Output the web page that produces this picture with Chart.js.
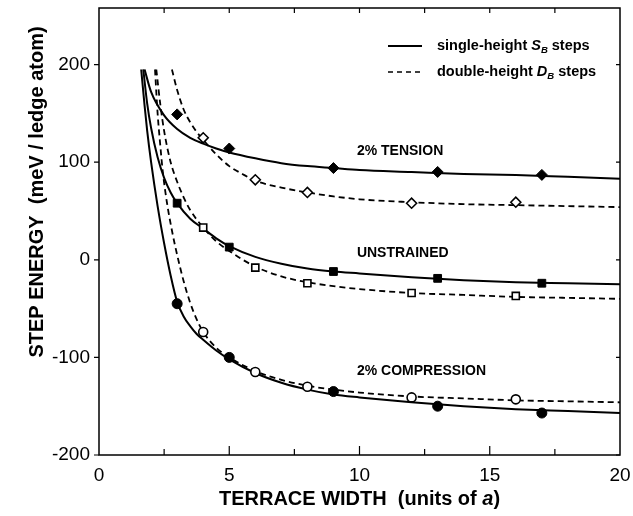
<!DOCTYPE html>
<html>
<head>
<meta charset="utf-8">
<script src="https://cdn.jsdelivr.net/npm/chart.js@4.4.0/dist/chart.umd.min.js"></script>
<style>
body { margin: 0; background: #fff; }
canvas { display: block; }
</style>
</head>
<body>
<canvas id="stepChart" width="633" height="516"></canvas>
<script>
// fitted curves
const tensionSolidX = [1.75, 2, 2.5, 3, 3.5, 4, 4.5, 5, 6, 7, 8, 9, 10, 12, 14, 16, 18, 20];
const tensionSolidY = [195, 172, 148, 134, 125, 119, 114, 110, 104, 99, 96, 94, 92, 90, 88, 87, 85, 83];
const tensionDashX = [2.8, 3, 3.25, 3.5, 3.75, 4, 4.5, 5, 5.5, 6, 7, 8, 9, 10, 12, 14, 16, 18, 20];
const tensionDashY = [195, 174, 154, 141, 131, 123, 108, 96, 88, 81, 74, 69, 65, 62, 59, 57, 56, 55, 54];

const unstrSolidX = [1.7, 1.85, 2, 2.25, 2.5, 2.75, 3, 3.5, 4, 4.5, 5, 6, 7, 8, 9, 10, 12, 14, 16, 18, 20];
const unstrSolidY = [195, 160, 135, 105, 84, 69, 58, 42, 32, 22, 14, 3, -4, -9, -12, -14, -18, -21, -23, -24, -25];
const unstrDashX = [2.2, 2.35, 2.5, 2.75, 3, 3.25, 3.5, 4, 4.5, 5, 6, 7, 8, 9, 10, 12, 14, 16, 18, 20];
const unstrDashY = [195, 160, 132, 100, 80, 64, 51, 33, 19, 9, -7, -17, -23, -27, -30, -34, -36, -38, -39, -40];

const compSolidX = [1.62, 1.75, 1.85, 2, 2.25, 2.5, 2.75, 3, 3.25, 3.5, 3.75, 4, 4.5, 5, 6, 7, 8, 9, 10, 12, 14, 16, 18, 20];
const compSolidY = [195, 158, 132, 100, 55, 17, -16, -43, -58, -68, -76, -82, -93, -102, -116, -126, -133, -138, -141, -146, -150, -153, -155, -157];
const compDashX = [2.15, 2.25, 2.35, 2.45, 2.6, 2.8, 3, 3.25, 3.5, 3.75, 4, 4.5, 5, 6, 7, 8, 9, 10, 12, 14, 16, 18, 20];
const compDashY = [195, 150, 118, 90, 60, 30, 5, -22, -44, -61, -74, -90, -100, -114, -123, -129, -133, -136, -140, -142, -144, -145, -146];

// calculated energies
const sbWidths = [3, 5, 9, 13, 17];
const dbWidths = [4, 6, 8, 12, 16];
const tensionSB = [149, 114, 94, 90, 87];
const tensionDB = [125, 82, 69, 58, 59];
const unstrainedSB = [58, 13, -12, -19, -24];
const unstrainedDB = [33, -8, -24, -34, -37];
const compressionSB = [-45, -100, -135, -150, -157];
const compressionDB = [-74, -115, -130, -141, -143];

const xTicks = [0, 5, 10, 15, 20];
const yTicks = [-200, -100, 0, 100, 200];
const curveNames = ['2% TENSION', 'UNSTRAINED', '2% COMPRESSION'];

const FONT = '"Liberation Sans", Arial, Helvetica, sans-serif';

function pts(xs, ys) {
    return xs.map((x, i) => ({ x: x, y: ys[i] }));
}

function curve(xs, ys, dashed) {
    return {
        data: pts(xs, ys),
        showLine: true,
        pointRadius: 0,
        pointHoverRadius: 0,
        borderColor: '#000',
        borderWidth: dashed ? 1.8 : 2,
        borderDash: dashed ? [6, 4] : [],
        cubicInterpolationMode: 'monotone',
        fill: false
    };
}

function marks(xs, ys, style, filled, r) {
    return {
        data: pts(xs, ys),
        showLine: false,
        pointStyle: style,
        pointRadius: r,
        pointBackgroundColor: filled ? '#000' : '#fff',
        pointBorderColor: '#000',
        pointBorderWidth: filled ? 1 : 1.6
    };
}

// draw text pieces one after another (for italic / subscript parts)
function richText(c, parts, x, y) {
    let cx = x;
    parts.forEach(p => {
        c.font = p.font;
        c.fillText(p.text, cx, y + (p.dy || 0));
        cx += c.measureText(p.text).width;
    });
}
function richWidth(c, parts) {
    let w = 0;
    parts.forEach(p => { c.font = p.font; w += c.measureText(p.text).width; });
    return w;
}

const decor = {
    id: 'decor',
    afterDraw(chart) {
        const c = chart.ctx, a = chart.chartArea;
        const xs = chart.scales.x, ys = chart.scales.y;
        c.save();
        c.strokeStyle = '#000';
        c.fillStyle = '#000';

        // frame
        c.lineWidth = 1.5;
        c.strokeRect(a.left, a.top, a.right - a.left, a.bottom - a.top);

        // ticks
        c.lineWidth = 1.2;
        for (let v = 2.5; v < 20; v += 2.5) {
            const px = xs.getPixelForValue(v);
            const major = v % 5 === 0;
            c.beginPath();
            c.moveTo(px, a.bottom); c.lineTo(px, a.bottom - (major ? 9 : 6));
            c.moveTo(px, a.top); c.lineTo(px, a.top + 5);
            c.stroke();
        }
        yTicks.forEach(v => {
            const py = ys.getPixelForValue(v);
            c.beginPath();
            c.moveTo(a.left, py); c.lineTo(a.left - 5, py);
            c.moveTo(a.right, py); c.lineTo(a.right - 4, py);
            c.stroke();
        });

        // axis titles
        c.textBaseline = 'middle';
        const bold = 'bold 20px ' + FONT;
        const xTitle = [
            { text: 'TERRACE WIDTH  (units of ', font: bold },
            { text: 'a', font: 'italic bold 20px ' + FONT },
            { text: ')', font: bold }
        ];
        const xw = richWidth(c, xTitle);
        richText(c, xTitle, (a.left + a.right) / 2 - xw / 2, 499);

        c.save();
        c.translate(37, 192);
        c.rotate(-Math.PI / 2);
        c.font = bold;
        c.textAlign = 'center';
        c.fillText('STEP ENERGY  (meV / ledge atom)', 0, 0);
        c.restore();

        // legend
        c.lineWidth = 2;
        c.beginPath(); c.moveTo(388, 46); c.lineTo(422, 46); c.stroke();
        c.lineWidth = 1.6;
        c.setLineDash([5, 4]);
        c.beginPath(); c.moveTo(388, 72); c.lineTo(422, 72); c.stroke();
        c.setLineDash([]);
        const lb = 'bold 14.5px ' + FONT, li = 'italic bold 14.5px ' + FONT, ls = 'italic bold 9.5px ' + FONT;
        richText(c, [
            { text: 'single-height ', font: lb },
            { text: 'S', font: li },
            { text: 'B', font: ls, dy: 4 },
            { text: ' steps', font: lb }
        ], 437, 46);
        richText(c, [
            { text: 'double-height ', font: lb },
            { text: 'D', font: li },
            { text: 'B', font: ls, dy: 4 },
            { text: ' steps', font: lb }
        ], 437, 72);

        // curve labels
        c.font = 'bold 14px ' + FONT;
        const lx = xs.getPixelForValue(9.9);
        c.fillText(curveNames[0], lx, ys.getPixelForValue(111));
        c.fillText(curveNames[1], lx, ys.getPixelForValue(7));
        c.fillText(curveNames[2], lx, ys.getPixelForValue(-114));
        c.restore();
    }
};

const chart = new Chart(document.getElementById('stepChart').getContext('2d'), {
    type: 'scatter',
    data: {
        datasets: [
            marks(sbWidths, tensionSB, 'rectRot', true, 5.5),
            marks(dbWidths, tensionDB, 'rectRot', false, 5),
            marks(sbWidths, unstrainedSB, 'rect', true, 5.5),
            marks(dbWidths, unstrainedDB, 'rect', false, 5),
            marks(sbWidths, compressionSB, 'circle', true, 5),
            marks(dbWidths, compressionDB, 'circle', false, 4.5),
            curve(tensionSolidX, tensionSolidY, false),
            curve(tensionDashX, tensionDashY, true),
            curve(unstrSolidX, unstrSolidY, false),
            curve(unstrDashX, unstrDashY, true),
            curve(compSolidX, compSolidY, false),
            curve(compDashX, compDashY, true)
        ]
    },
    options: {
        responsive: false,
        animation: false,
        layout: { padding: { top: 8, right: 13, left: 0, bottom: 0 } },
        plugins: {
            legend: { display: false },
            tooltip: { enabled: false }
        },
        scales: {
            x: {
                type: 'linear',
                min: 0,
                max: 20,
                afterBuildTicks: s => { s.ticks = xTicks.map(v => ({ value: v })); },
                afterFit: s => { s.height = 61; s.paddingLeft = 0; s.paddingRight = 0; },
                grid: { display: false, drawTicks: false },
                border: { display: false },
                ticks: { color: '#000', font: { family: FONT, size: 19 }, padding: 9, maxRotation: 0, autoSkip: false }
            },
            y: {
                type: 'linear',
                min: -200,
                max: 258,
                afterBuildTicks: s => { s.ticks = yTicks.map(v => ({ value: v })); },
                afterFit: s => { s.width = 99; s.paddingTop = 0; s.paddingBottom = 0; },
                grid: { display: false, drawTicks: false },
                border: { display: false },
                ticks: { color: '#000', font: { family: FONT, size: 19 }, padding: 9 }
            }
        }
    },
    plugins: [decor]
});
</script>
</body>
</html>
